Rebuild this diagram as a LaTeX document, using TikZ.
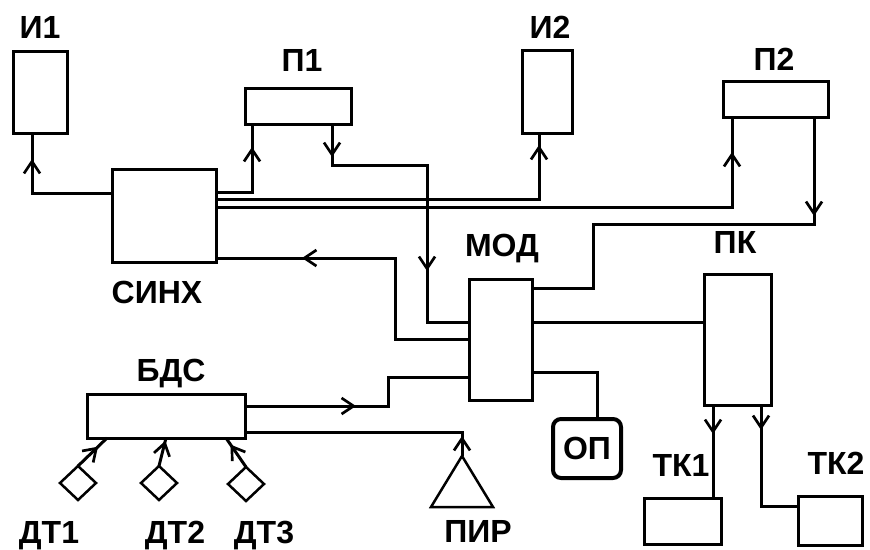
\documentclass[tikz,border=0pt]{standalone}
\usepackage{fontspec}
\setmainfont{Liberation Sans}
\usetikzlibrary{arrows.meta,shapes.geometric,decorations.markings}
\begin{document}
\begin{tikzpicture}[x=1pt,y=-1pt,
  box/.style={draw, line width=3pt, inner sep=0pt, outer sep=0pt},
  lab/.style={font=\fontsize{32}{36}\selectfont\bfseries, anchor=base, inner sep=0pt},
  wire/.style={line width=3pt, line join=miter},
  arrtip/.style={line width=2.7pt, -{Straight Barb[length=12pt,width=16pt]}},
  sens/.style={diamond, draw, line width=2.5pt, inner sep=0pt, outer sep=0pt, minimum width=36pt, minimum height=34pt},
  midarr/.style={postaction={decorate}, decoration={markings, mark=at position #1 with {\arrow[line width=2.7pt]{Straight Barb[length=12pt,width=16pt]}}}}
]
\useasboundingbox (0,0) rectangle (870,549);
% blocks
\node[box, minimum width=54pt, minimum height=82pt] (i1) at (40,92) {};
\node[box, minimum width=106pt, minimum height=36pt] (p1) at (298,106) {};
\node[box, minimum width=104pt, minimum height=93pt] (sync) at (164,215.5) {};
\node[box, minimum width=50pt, minimum height=83pt] (i2) at (547,91.5) {};
\node[box, minimum width=105pt, minimum height=36pt] (p2) at (775.5,99) {};
\node[box, minimum width=63pt, minimum height=121pt] (mod) at (500.5,339.5) {};
\node[box, minimum width=67pt, minimum height=131pt] (pk) at (737.5,339.5) {};
\node[box, minimum width=158pt, minimum height=44pt] (bds) at (166,416) {};
\node[box, minimum width=77pt, minimum height=46pt] (tk1) at (682.5,521) {};
\node[box, minimum width=64pt, minimum height=49pt] (tk2) at (830,520.5) {};
\node[box, line width=4pt, rounded corners=8pt, minimum width=68pt, minimum height=59pt,
      font=\fontsize{32}{36}\selectfont\bfseries] (op) at (587,448.5) {ОП};
\node[sens] (dt1) at (78,483) {};
\node[sens] (dt2) at (159,483) {};
\node[sens] (dt3) at (246,484) {};
\coordinate (pir) at (462,456);
\draw[line width=2.5pt, line join=miter] (pir) -- ++(-31,51) -- ++(62,0) -- cycle;
% labels
\node[lab] (li1) at (40,38) {И1};
\node[lab] (lp1) at (302,71) {П1};
\node[lab] (lsync) at (157,303) {СИНХ};
\node[lab] (li2) at (550,38) {И2};
\node[lab] (lp2) at (774,70) {П2};
\node[lab] (lmod) at (502,256) {МОД};
\node[lab] (lpk) at (735,253) {ПК};
\node[lab] (lbds) at (171,381) {БДС};
\node[lab] (ldt1) at (49,543) {ДТ1};
\node[lab] (ldt2) at (175,543) {ДТ2};
\node[lab] (ldt3) at (264,543) {ДТ3};
\node[lab] (lpir) at (478,542) {ПИР};
\node[lab] (ltk1) at (681,476) {ТК1};
\node[lab] (ltk2) at (836,474) {ТК2};
% connectors
\draw[wire] (sync.west |- 0,193) -| (i1.south -| 32,0);
\draw[arrtip] (32,178) -- (32,159);
\draw[wire] (sync.east |- 0,192) -| (p1.south -| 252,0);
\draw[arrtip] (252,166) -- (252,147);
\draw[wire] (p1.south -| 332,0) |- (427,165) |- (mod.west |- 0,322);
\draw[arrtip] (332,138) -- (332,157);
\draw[arrtip] (427,252) -- (427,271);
\draw[wire] (sync.east |- 0,199) -| (i2.south -| 539,0);
\draw[arrtip] (539,164) -- (539,145);
\draw[wire] (sync.east |- 0,207) -| (p2.south -| 732,0);
\draw[arrtip] (732,171) -- (732,152);
\draw[wire] (p2.south -| 814,0) |- (593,224) |- (mod.east |- 0,288);
\draw[arrtip] (814,197) -- (814,216);
\draw[wire] (mod.east |- 0,322) -- (pk.west |- 0,322);
\draw[wire] (mod.west |- 0,339) -| (395,258) -- (sync.east |- 0,258);
\draw[arrtip] (321,258) -- (302,258);
\draw[wire] (bds.east |- 0,406) -| (388,377) -- (mod.west |- 0,377);
\draw[arrtip] (337,406) -- (356,406);
\draw[wire] (pir) |- (bds.east |- 0,432);
\draw[arrtip] (462,455) -- (462,436);
\draw[wire] (mod.east |- 0,372) -| (op.north -| 597,0);
\draw[wire] (pk.south -| 713,0) -- (tk1.north -| 713,0);
\draw[arrtip] (713,415) -- (713,434);
\draw[wire] (pk.south -| 761,0) |- (tk2.west |- 0,506);
\draw[arrtip] (761,411) -- (761,430);
\draw[wire, midarr=0.69] (dt1.north) -- (bds.south -| 107,0);
\draw[wire, midarr=0.9] (dt2.north) -- (bds.south -| 166,0);
\draw[wire, midarr=0.77] (dt3.north) -- (bds.south -| 226,0);
\end{tikzpicture}
\end{document}
